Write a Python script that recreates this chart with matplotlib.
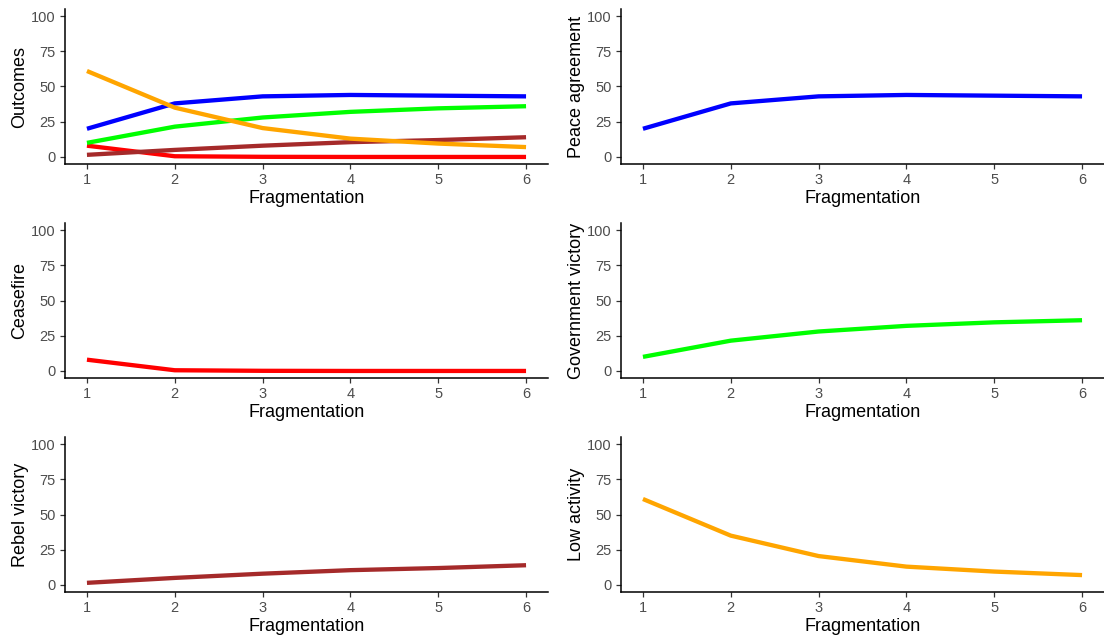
import matplotlib
matplotlib.use("Agg")
import matplotlib.pyplot as plt

fragmentation = [1, 2, 3, 4, 5, 6]

peace_agreement = [20, 38, 43, 44, 43.5, 43]
ceasefire = [8, 0.5, 0.1, 0, 0, 0]
government_victory = [10, 21.5, 28, 32, 34.5, 36]
rebel_victory = [1.5, 5, 8, 10.5, 12, 14]
low_activity = [61, 35, 20.5, 13, 9.5, 7]

outcome_names = ["Peace agreement", "Ceasefire", "Government victory",
                 "Rebel victory", "Low activity"]
outcome_values = [peace_agreement, ceasefire, government_victory,
                  rebel_victory, low_activity]
outcome_colors = ["#0000FF", "#FF0000", "#00FF00", "#A52A2A", "#FFA500"]

y_ticks = [0, 25, 50, 75, 100]

plt.rcParams["font.family"] = ["Liberation Sans", "DejaVu Sans"]

fig = plt.figure(figsize=(11.04, 6.41), dpi=100)
W, H = 1104, 641

col_left = [65, 621]
col_width = 483
row_top = [9, 223, 437]
row_height = 155


def make_axes(row, col):
    left = col_left[col] / W
    bottom = 1 - (row_top[row] + row_height) / H
    return fig.add_axes([left, bottom, col_width / W, row_height / H])


def style(ax, ylabel):
    ax.set_xlim(0.75, 6.25)
    ax.set_ylim(-5, 105)
    ax.set_xticks(fragmentation)
    ax.set_yticks(y_ticks)
    for side in ("top", "right"):
        ax.spines[side].set_visible(False)
    for side in ("left", "bottom"):
        ax.spines[side].set_linewidth(1.1)
        ax.spines[side].set_color("black")
    ax.tick_params(axis="both", length=3.5, width=0.9, color="#333333",
                   labelsize=10.5, labelcolor="#4D4D4D", pad=3)
    ax.set_xlabel("Fragmentation", fontsize=13, color="black", labelpad=2)
    ax.set_ylabel(ylabel, fontsize=13, color="black", labelpad=2)


lw = 3.1

# Combined panel with every outcome
ax = make_axes(0, 0)
for vals, color in zip(outcome_values, outcome_colors):
    ax.plot(fragmentation, vals, color=color, linewidth=lw,
            solid_capstyle="butt")
style(ax, "Outcomes")

# One panel per outcome
positions = [(0, 1), (1, 0), (1, 1), (2, 0), (2, 1)]
for (r, c), name, vals, color in zip(positions, outcome_names,
                                     outcome_values, outcome_colors):
    ax = make_axes(r, c)
    ax.plot(fragmentation, vals, color=color, linewidth=lw,
            solid_capstyle="butt")
    style(ax, name)

fig.savefig("out.png", dpi=100)
